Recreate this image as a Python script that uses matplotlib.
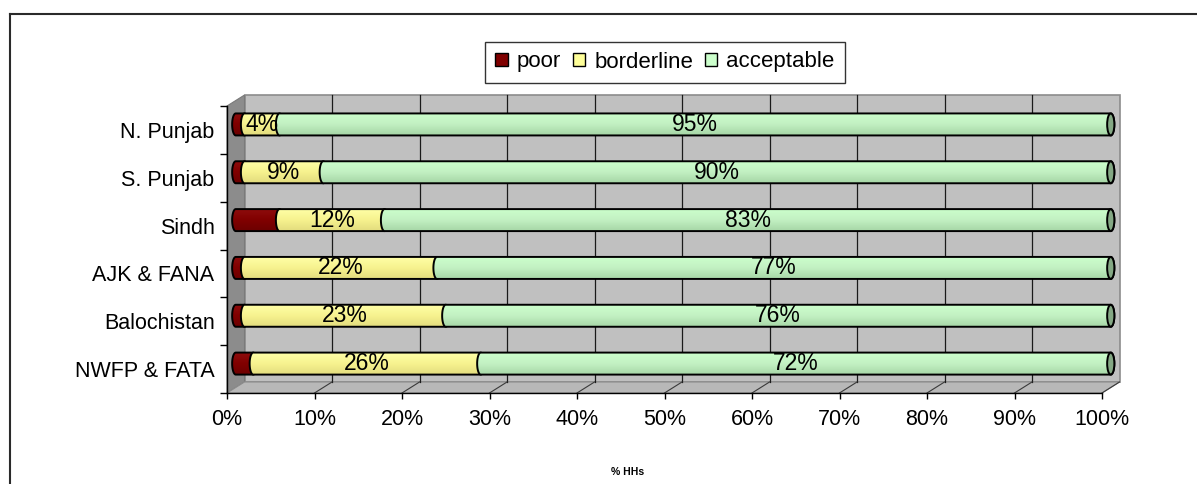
import numpy as np
import matplotlib
matplotlib.use("Agg")
import matplotlib.pyplot as plt
from matplotlib.patches import Polygon, Ellipse, Patch
from matplotlib.lines import Line2D
from matplotlib.colors import LinearSegmentedColormap

plt.rcParams['font.family'] = ['Liberation Sans', 'DejaVu Sans']

# Food consumption groups by region (% of households), bottom to top
regions = ["NWFP & FATA", "Balochistan", "AJK & FANA", "Sindh", "S. Punjab", "N. Punjab"]
poor = [2, 1, 1, 5, 1, 1]
borderline = [26, 23, 22, 12, 9, 4]
acceptable = [72, 76, 77, 83, 90, 95]
series_names = ["poor", "borderline", "acceptable"]
x_ticks = list(range(0, 101, 10))
x_ticklabels = [f"{t}%" for t in x_ticks]

# shading bands (top -> bottom) for each cylinder series
shades = {
    "poor": ["#8e0c0c", "#800000", "#6c0000"],
    "borderline": ["#ffffa6", "#f6f28e", "#e2dc7e"],
    "acceptable": ["#ccffcc", "#c2f0c2", "#a6d6a6"],
}
legend_colors = {"poor": "#800000", "borderline": "#ffff99", "acceptable": "#ccffcc"}
cap_color = "#84a884"

W, H = 1197, 484
fig = plt.figure(figsize=(W / 100, H / 100), dpi=100)

# outer chart frame
fig.add_artist(Line2D([9.5 / W, 9.5 / W], [0, 1 - 13.5 / H], color="#2a2a2a", lw=1.5))
fig.add_artist(Line2D([9.5 / W, 1], [1 - 13.5 / H, 1 - 13.5 / H], color="#2a2a2a", lw=1.5))

px_per_pct = 8.75
px_per_cat = 47.83
XMAX = 102
ax = fig.add_axes([227 / W, (H - 393) / H, XMAX * px_per_pct / W, 6 * px_per_cat / H])
ax.set_xlim(0, XMAX)
ax.set_ylim(-0.5, 5.5)
ax.patch.set_visible(False)

# depth of the 3D box, in data units
DX = 17.5 / px_per_pct
DY = 11.0 / px_per_cat
y0, y1 = -0.5, 5.5

# back wall
ax.add_patch(Polygon([(DX, y0 + DY), (100 + DX, y0 + DY), (100 + DX, y1 + DY), (DX, y1 + DY)],
                     closed=True, facecolor="#c0c0c0", edgecolor="#8c8c8c", lw=1.2,
                     zorder=0, clip_on=False))
# side wall
ax.add_patch(Polygon([(0, y0), (DX, y0 + DY), (DX, y1 + DY), (0, y1)],
                     closed=True, facecolor="#8c8c8c", edgecolor="#7a7a7a", lw=0.8,
                     zorder=0.5, clip_on=False))
# floor
ax.add_patch(Polygon([(0, y0), (100, y0), (100 + DX, y0 + DY), (DX, y0 + DY)],
                     closed=True, facecolor="#b8b8b8", edgecolor="#8c8c8c", lw=0.8,
                     zorder=0.5, clip_on=False))
# gridlines on the back wall and floor
for t in x_ticks[1:-1]:
    ax.plot([t + DX, t + DX], [y0 + DY, y1 + DY], color="#1a1a1a", lw=0.9, zorder=1, clip_on=False)
for t in x_ticks[1:]:
    ax.plot([t, t + DX], [y0, y0 + DY], color="#3a3a3a", lw=0.8, zorder=1, clip_on=False)

# cylinders
bar_h = 22.0 / px_per_cat
cap_a = 3.6 / px_per_pct
grad = np.linspace(0, 1, 96).reshape(-1, 1)


def draw_segment(x_start, x_end, yc, colors, z):
    top_y, bot_y = yc + bar_h / 2, yc - bar_h / 2
    t1 = np.linspace(np.pi / 2, 3 * np.pi / 2, 40)
    t2 = np.linspace(-np.pi / 2, np.pi / 2, 40)
    left = np.column_stack([x_start + cap_a * np.cos(t1), yc + bar_h / 2 * np.sin(t1)])
    right = np.column_stack([x_end + cap_a * np.cos(t2), yc + bar_h / 2 * np.sin(t2)])
    shape = Polygon(np.vstack([left, right]), closed=True, facecolor="none",
                    edgecolor="black", lw=1.4, zorder=z + 0.1)
    ax.add_patch(shape)
    cmap = LinearSegmentedColormap.from_list("band", colors)
    im = ax.imshow(grad, cmap=cmap, extent=[x_start - cap_a, x_end + cap_a, bot_y, top_y],
                   origin="upper", aspect="auto", zorder=z, interpolation="bilinear")
    im.set_clip_path(shape)


values = {"poor": poor, "borderline": borderline, "acceptable": acceptable}
for i in range(len(regions)):
    yc = i + DY / 2
    left_edge = DX / 2
    z = 2
    for name in series_names:
        v = values[name][i]
        draw_segment(left_edge, left_edge + v, yc, shades[name], z)
        if name != "poor":
            ax.text(left_edge + v / 2, yc, f"{v}%", ha="center", va="center",
                    fontsize=16.5, color="black", zorder=20)
        left_edge += v
        z += 1
    ax.add_patch(Ellipse((left_edge, yc), 2 * cap_a, bar_h, facecolor=cap_color,
                         edgecolor="black", lw=1.4, zorder=z + 1))

ax.set_xlim(0, XMAX)
ax.set_ylim(-0.5, 5.5)

# axes, ticks and labels
for s in ["top", "right"]:
    ax.spines[s].set_visible(False)
ax.spines["bottom"].set_bounds(0, 100)
ax.spines["bottom"].set_linewidth(1.0)
ax.spines["left"].set_linewidth(1.0)
ax.spines["bottom"].set_zorder(30)
ax.spines["left"].set_zorder(30)
ax.set_xticks(x_ticks, x_ticklabels, fontsize=15.5)
ax.tick_params(axis="x", direction="out", length=4.5, width=1.0, pad=7)
ax.set_yticks(range(len(regions)), regions, fontsize=15.5)
ax.set_yticks(np.arange(-0.5, 6, 1), minor=True)
ax.tick_params(axis="y", which="major", length=0, pad=9)
ax.tick_params(axis="y", which="minor", direction="out", length=5, width=1.0)

fig.text(628 / W, 1 - 472 / H, "% HHs", ha="center", va="center", fontsize=7.5, fontweight="bold")

handles = [Patch(facecolor=legend_colors[n], edgecolor="black", lw=1.0) for n in series_names]
leg = fig.legend(handles, series_names, loc="center", bbox_to_anchor=(665 / W, 1 - 62 / H),
                 bbox_transform=fig.transFigure, ncol=3, fontsize=16, frameon=True,
                 fancybox=False, edgecolor="black", handlelength=0.55, handleheight=0.55,
                 handletextpad=0.4, columnspacing=0.55, borderpad=0.45, borderaxespad=0)
leg.get_frame().set_linewidth(1.0)

fig.savefig("out.png", dpi=100)
